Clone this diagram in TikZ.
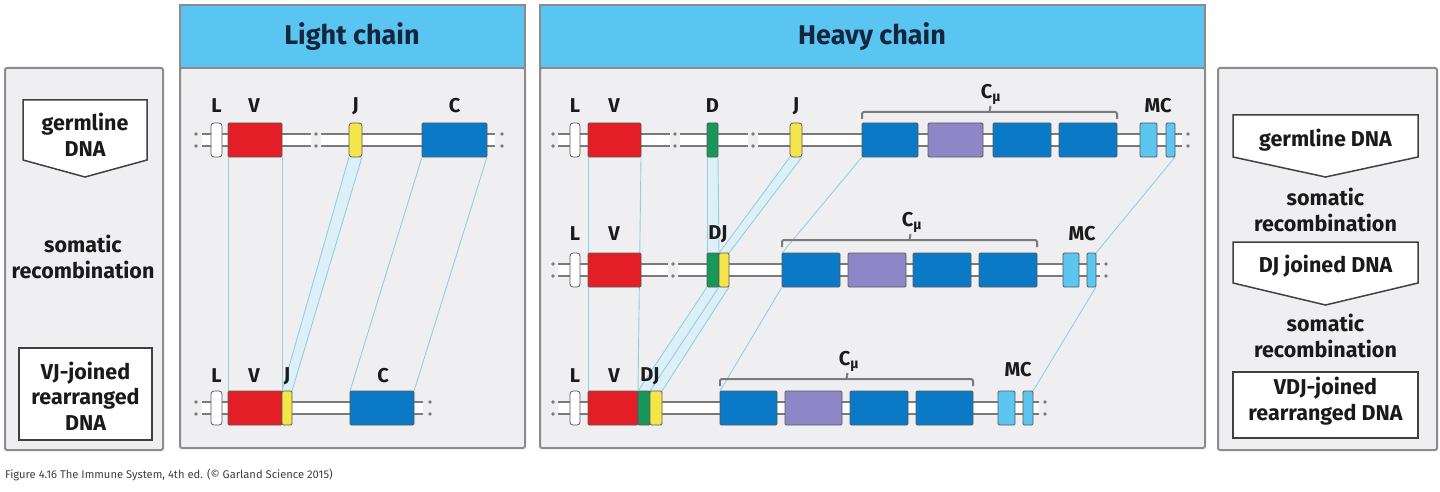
\documentclass[tikz,border=0pt]{standalone}
\usepackage{fontspec}
\setmainfont{Fira Sans}
\usetikzlibrary{calc}
\pgfdeclarelayer{panel}
\pgfdeclarelayer{conn}
\pgfsetlayers{panel,conn,main}
\definecolor{panelbg}{HTML}{EFEFF1}
\definecolor{panelln}{HTML}{8C8C8C}
\definecolor{headbg}{HTML}{5BC5F1}
\definecolor{navy}{HTML}{13263E}
\definecolor{redV}{HTML}{E41E26}
\definecolor{yelJ}{HTML}{F4E54A}
\definecolor{grnD}{HTML}{17985A}
\definecolor{bluC}{HTML}{0A7AC7}
\definecolor{purC}{HTML}{8E86C6}
\definecolor{mcb}{HTML}{5CC6F0}
\definecolor{connc}{HTML}{8FCFE6}
\definecolor{connf}{HTML}{DDF0F8}
\definecolor{dnac}{HTML}{7A7A7A}
\definecolor{ink}{HTML}{1A1A1A}
\tikzset{
  panelbox/.style={draw=panelln, line width=2, fill=panelbg, rounded corners=2},
  headbox/.style={draw=panelln, line width=2, fill=headbg},
  headtxt/.style={font=\bfseries\fontsize{27}{30}\selectfont, text=navy},
  seg/.style={draw=black!65, line width=0.8, inner sep=0, outer sep=0, rounded corners=1.2, minimum height=34},
  rseg/.style={seg, rounded corners=3},
  lab/.style={font=\bfseries\fontsize{20}{22}\selectfont, text=ink, inner sep=0},
  sidetxt/.style={font=\bfseries\fontsize{21.5}{25.5}\selectfont, text=ink, align=center, inner sep=0},
  dnal/.style={draw=dnac, line width=2.2},
  conn/.style={draw=connc, line width=0.9},
  brackl/.style={draw=dnac, line width=2, rounded corners=2},
  arrbox/.style={draw=black!75, line width=1.5, fill=white},
}
\newcommand\seg[6][]{\node[seg,#1,fill=#6,minimum width={#4-#3}] (#2) at ({(#3+#4)/2},#5) {};}
\newcommand\dnaseg[3]{\fill[white] (#1,#3-6) rectangle (#2,#3+6); \draw[dnal] (#1,#3-6) -- (#2,#3-6) (#1,#3+6) -- (#2,#3+6);}
\newcommand\dnadots[2]{\fill[dnac] (#1,#2-6) circle[radius=1.8pt] (#1,#2+6) circle[radius=1.8pt];}
\newcommand\cbrack[3]{\draw[brackl] (#1,#3+7) -- (#1,#3) -- (#2,#3) -- (#2,#3+7); \draw[dnac, line width=2] ({(#1+#2)/2},#3) -- ({(#1+#2)/2+1},#3-6);}
\begin{document}
\begin{tikzpicture}[x=1pt,y=-1pt]
\useasboundingbox (0,0) rectangle (1440,492);
% panels
\begin{pgfonlayer}{panel}
\fill[white] (0,0) rectangle (1440,492);
\draw[panelbox] (5,68) rectangle (163,450);
\draw[panelbox] (180,68) rectangle (525,448);
\draw[headbox] (180,5) rectangle (525,68);
\draw[panelbox] (540,68) rectangle (1205,448);
\draw[headbox] (540,5) rectangle (1205,68);
\draw[panelbox] (1218,68) rectangle (1437,450);
\end{pgfonlayer}
\node[headtxt] (hlight) at (352,37) {Light chain};
\node[headtxt] (hheavy) at (872,37) {Heavy chain};

% left side panel
\draw[arrbox] (23,100) -- (147,100) -- (147,160) -- (85,177) -- (23,160) -- cycle;
\node[sidetxt] (lg) at (85,135) {germline\\DNA};
\node[sidetxt] (ls) at (83,257) {somatic\\recombination};
\draw[arrbox] (19,348) rectangle (152,440);
\node[sidetxt] (lr) at (85.5,396) {VJ-joined\\rearranged\\DNA};

% right side panel
\draw[arrbox] (1233,115) -- (1418,115) -- (1418,157) -- (1325.5,177) -- (1233,157) -- cycle;
\node[sidetxt] (rg) at (1325.5,140) {germline DNA};
\node[sidetxt] (rs1) at (1325.5,210) {somatic\\recombination};
\draw[arrbox] (1233,242) -- (1418,242) -- (1418,283) -- (1325.5,305) -- (1233,283) -- cycle;
\node[sidetxt] (rdj) at (1325.5,266) {DJ joined DNA};
\node[sidetxt] (rs2) at (1325.5,336) {somatic\\recombination};
\draw[arrbox] (1233,372) rectangle (1418,438);
\node[sidetxt] (rvdj) at (1325.5,401) {VDJ-joined\\rearranged DNA};

% ---------- light chain ----------
% row 1
\dnadots{196}{140}
\dnaseg{202}{311}{140}
\dnadots{316}{140}
\dnaseg{321}{495}{140}
\dnadots{502}{140}
\seg[rseg]{ll1}{211}{222}{140}{white}
\seg{lv1}{228}{282}{140}{redV}
\seg[rseg]{lj1}{349}{362}{140}{yelJ}
\seg{lc1}{422}{487}{140}{bluC}
\node[lab] (tll1) at (216.5,106) {L};
\node[lab] (tlv1) at (254,106) {V};
\node[lab] (tlj1) at (355.5,106) {J};
\node[lab] (tlc1) at (454.5,106) {C};
% row 3
\dnadots{196}{408}
\dnaseg{202}{423}{408}
\dnadots{430}{408}
\seg[rseg]{ll3}{211}{222}{408}{white}
\seg{lv3}{228}{282}{408}{redV}
\seg{lj3}{282}{292}{408}{yelJ}
\seg{lc3}{350}{414}{408}{bluC}
\node[lab] (tll3) at (216.5,376) {L};
\node[lab] (tlv3) at (254,376) {V};
\node[lab] (tlj3) at (287,376) {J};
\node[lab] (tlc3) at (383,376) {C};

% ---------- heavy chain ----------
% row 1
\dnadots{553}{140}
\dnaseg{558}{670}{140}
\dnadots{675}{140}
\dnaseg{680}{748}{140}
\dnadots{753}{140}
\dnaseg{758}{1182}{140}
\dnadots{1188}{140}
\seg[rseg]{hl1}{570}{580}{140}{white}
\seg{hv1}{588}{641}{140}{redV}
\seg{hd1}{707}{718}{140}{grnD}
\seg[rseg]{hj1}{790}{802}{140}{yelJ}
\seg{hc1a}{862}{918}{140}{bluC}
\seg{hc1b}{928}{983}{140}{purC}
\seg{hc1c}{993}{1051}{140}{bluC}
\seg{hc1d}{1059}{1117}{140}{bluC}
\seg{hm1a}{1140}{1157}{140}{mcb}
\seg{hm1b}{1166}{1175}{140}{mcb}
\cbrack{862}{1117}{112}
\node[lab] (thl1) at (575,106) {L};
\node[lab] (thv1) at (614,106) {V};
\node[lab] (thd1) at (712.5,106) {D};
\node[lab] (thj1) at (796,106) {J};
\node[lab] (thc1) at (991,94) {C\textsubscript{μ}};
\node[lab] (thm1) at (1158,106) {MC};
% row 2
\dnadots{553}{270}
\dnaseg{558}{668}{270}
\dnadots{673}{270}
\dnaseg{678}{1100}{270}
\dnadots{1106}{270}
\seg[rseg]{hl2}{570}{580}{270}{white}
\seg{hv2}{588}{641}{270}{redV}
\seg{hd2}{707}{719}{270}{grnD}
\seg{hj2}{719}{729}{270}{yelJ}
\seg{hc2a}{782}{840}{270}{bluC}
\seg{hc2b}{848}{906}{270}{purC}
\seg{hc2c}{913}{971}{270}{bluC}
\seg{hc2d}{979}{1037}{270}{bluC}
\seg{hm2a}{1063}{1079}{270}{mcb}
\seg{hm2b}{1087}{1096}{270}{mcb}
\cbrack{782}{1037}{240}
\node[lab] (thl2) at (575,234) {L};
\node[lab] (thv2) at (614,234) {V};
\node[lab] (thdj2) at (718,234) {DJ};
\node[lab] (thc2) at (912,222) {C\textsubscript{μ}};
\node[lab] (thm2) at (1082,234) {MC};
% row 3
\dnadots{553}{408}
\dnaseg{558}{1039}{408}
\dnadots{1045}{408}
\seg[rseg]{hl3}{570}{580}{408}{white}
\seg{hv3}{588}{638}{408}{redV}
\seg{hd3}{638}{650}{408}{grnD}
\seg{hj3}{650}{662}{408}{yelJ}
\seg{hc3a}{720}{777}{408}{bluC}
\seg{hc3b}{785}{842}{408}{purC}
\seg{hc3c}{850}{908}{408}{bluC}
\seg{hc3d}{916}{973}{408}{bluC}
\seg{hm3a}{998}{1015}{408}{mcb}
\seg{hm3b}{1023}{1033}{408}{mcb}
\cbrack{720}{973}{379}
\node[lab] (thl3) at (575,376) {L};
\node[lab] (thv3) at (614,376) {V};
\node[lab] (thdj3) at (650,376) {DJ};
\node[lab] (thc3) at (849,361) {C\textsubscript{μ}};
\node[lab] (thm3) at (1018,370) {MC};

% ---------- connectors ----------
\begin{pgfonlayer}{conn}
% light
\draw[conn] (lv1.south west) -- (lv3.north west);
\draw[conn] (lv1.south east) -- (lv3.north east);
\fill[connf] (lj1.south west) -- (lj3.north west) -- (lj3.north east) -- (lj1.south east) -- cycle;
\draw[conn] (lj1.south west) -- (lj3.north west);
\draw[conn] (lj1.south east) -- (lj3.north east);
\draw[conn] (lc1.south west) -- (lc3.north west);
\draw[conn] (lc1.south east) -- (lc3.north east);
% heavy
\draw[conn] (hv1.south west) -- (hv3.north west);
\draw[conn] (hv1.south east) -- (hv3.north east);
\fill[connf] (hd1.south west) -- (hd2.north west) -- (hd2.north east) -- (hd1.south east) -- cycle;
\draw[conn] (hd1.south west) -- (hd2.north west);
\draw[conn] (hd1.south east) -- (hd2.north east);
\fill[connf] (hj1.south west) -- (hj2.north west) -- (hj2.north east) -- (hj1.south east) -- cycle;
\draw[conn] (hj1.south west) -- (hj2.north west);
\draw[conn] (hj1.south east) -- (hj2.north east);
\fill[connf] (hd2.south west) -- (hd3.north west) -- (hj3.north east) -- (hj2.south east) -- cycle;
\draw[conn] (hd2.south west) -- (hd3.north west);
\draw[conn] (hd2.south east) -- (hd3.north east);
\draw[conn] (hj2.south east) -- (hj3.north east);
\draw[conn] (hc1a.south west) -- (hc2a.north west);
\draw[conn] (hc2a.south west) -- (hc3a.north west);
\draw[conn] (hm1b.south east) -- (hm2b.north east);
\draw[conn] (hm2b.south east) -- (hm3b.north east);
\end{pgfonlayer}

% caption
\node[anchor=west, inner sep=0, font=\fontsize{11.2}{13}\selectfont, text=black!75] (cap) at (5,475) {Figure 4.16 The Immune System, 4th ed. (© Garland Science 2015)};
\end{tikzpicture}
\end{document}
